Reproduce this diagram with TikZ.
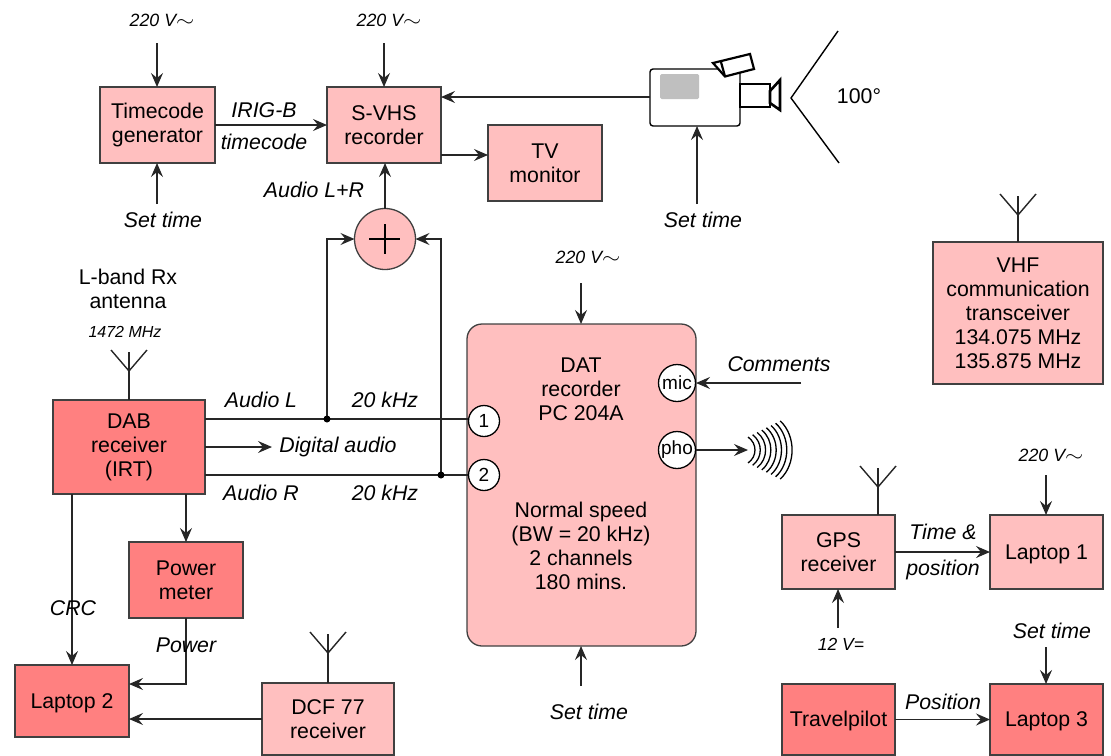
\documentclass[tikz,border=0pt]{standalone}
\usepackage{fontspec}
\setmainfont{Liberation Sans}
\usetikzlibrary{arrows.meta}
\newcommand{\fbig}{\fontsize{21.3}{24}\selectfont}
\newcommand{\fsml}{\fontsize{17.8}{20}\selectfont}
\newcommand{\fport}{\fontsize{19}{22}\selectfont}
\newcommand{\pwr}{220 V\scalebox{1.35}[1.1]{$\sim$}}
\definecolor{pink1}{HTML}{FFBFBF}
\definecolor{red1}{HTML}{FF8080}
\tikzset{
  wire/.style={line width=1.4pt,draw=black!85},
  arr/.style={wire,-{Stealth[length=14pt,width=12pt,inset=5pt]}},
  blockbase/.style={draw=black!75,line width=1.3pt,align=center,inner sep=0pt,outer sep=0pt,font=\fbig,
    execute at begin node={\rule{0pt}{19pt}}},
  pinkbox/.style={blockbase,fill=pink1},
  redbox/.style={blockbase,fill=red1},
  lbl/.style={font=\fbig\itshape,inner sep=0pt},
  slbl/.style={font=\fsml\itshape,inner sep=0pt},
  plainlbl/.style={font=\fbig,align=center,inner sep=0pt},
  port/.style={circle,draw=black,fill=white,line width=1.3pt,inner sep=0pt,outer sep=0pt},
  junction/.style={circle,fill=black,inner sep=0pt,minimum size=7pt},
  ant/.style={line width=1.4pt,draw=black!85},
  cambox/.style={line width=2.6pt,draw=black,fill=white,line join=miter}
}
\begin{document}
\begin{tikzpicture}[x=1pt,y=-1pt]
\useasboundingbox (0,0) rectangle (1111,755);
% blocks
\node[pinkbox,minimum width=115,minimum height=76] (tc) at (157.5,125) {Timecode\\generator};
\node[pinkbox,minimum width=114,minimum height=76] (sv) at (384,125) {S-VHS\\recorder};
\node[pinkbox,minimum width=114,minimum height=76] (tv) at (545,163) {TV\\monitor};
\node[circle,draw=black!75,line width=1.3pt,inner sep=0pt,outer sep=0pt,fill=pink1,minimum size=61] (sum) at (385,239) {};
\draw[line width=2pt] (369,239) -- (400,239) (385,224) -- (385,254);
\node[redbox,minimum width=152,minimum height=94] (dab) at (129,447) {DAB\\receiver\\(IRT)};
\node[redbox,minimum width=114,minimum height=76] (pm) at (186,580) {Power\\meter};
\node[redbox,minimum width=114,minimum height=72] (l2) at (72,701) {Laptop 2};
\node[pinkbox,minimum width=132,minimum height=72] (dcf) at (328,719) {DCF 77\\receiver};
\node[draw=black!75,line width=1.3pt,fill=pink1,rounded corners=15pt,minimum width=229,minimum height=322,inner sep=0pt,outer sep=0pt] (dat) at (581.5,485) {};
\node[plainlbl] (dattop) at (581,389) {DAT\\recorder\\PC 204A};
\node[plainlbl] (datbot) at (581,546) {Normal speed\\(BW = 20 kHz)\\2 channels\\180 mins.};
\node[pinkbox,minimum width=170,minimum height=142] (vhf) at (1018,313) {VHF\\communication\\transceiver\\134.075 MHz\\135.875 MHz};
\node[pinkbox,minimum width=113,minimum height=74] (gps) at (838.5,552) {GPS\\receiver};
\node[pinkbox,minimum width=113,minimum height=74] (l1) at (1046.5,552) {Laptop 1};
\node[redbox,minimum width=113,minimum height=71] (tp) at (838.5,719.5) {Travelpilot};
\node[redbox,minimum width=113,minimum height=71] (l3) at (1046.5,719.5) {Laptop 3};
% camera
\draw[line width=1.4pt,fill=white,rounded corners=3pt] (650,69) rectangle (740,126);
\node[fill=black!25,rounded corners=1.5pt,minimum width=39,minimum height=25,inner sep=0pt] (screen) at (679.5,86.5) {};
\coordinate (cambody) at (650,97);
\coordinate (cambot) at (697,126);
\draw[cambox] (740,84) rectangle (770,107);
\draw[cambox] (770,91) -- (780,80) -- (780,110) -- (770,103) -- cycle;
\draw[line width=2.2pt,fill=white,line join=miter] (713,63) -- (750,54) -- (754,69) -- (725,76.5) -- cycle;
\draw[line width=2.2pt] (721,62) -- (725,76.5);
\draw[line width=1.4pt] (838,31) -- (791,98) -- (839,163);
\node[font=\fbig,inner sep=0pt] (ang) at (859,96) {100°};
% free ends
\coordinate (a1) at (157,43);
\coordinate (a2) at (157,204);
\coordinate (a3) at (384,43);
\coordinate (a4) at (697,204);
\coordinate (a5) at (581,283);
\coordinate (a6) at (581,686);
\coordinate (a7) at (801,383);
\coordinate (a8) at (272,447);
\coordinate (a9) at (838,628);
\coordinate (a10) at (1046,475);
\coordinate (a11) at (1046,647);
\coordinate (wv) at (748,450);
\coordinate (h1) at (0,155);
\coordinate (h2) at (0,684);
\coordinate (crcTop) at (72,494);
\coordinate (phoC) at (677,450);
\coordinate (p1c) at (484,421);
\coordinate (p2c) at (484,475);
\coordinate (n1) at (327,419);
\coordinate (n2) at (441,475);
\coordinate (c1) at (327,239);
\coordinate (c2) at (441,239);
\coordinate (c3) at (186,684);
% connectors
\draw[arr] (a1) -- (a1 |- tc.north);
\draw[arr] (a2) -- (a2 |- tc.south);
\draw[arr] (tc.east) -- (sv.west);
\draw[arr] (a3) -- (a3 |- sv.north);
\draw[arr] (cambody) -- (cambody -| sv.east);
\draw[arr] (sv.east |- h1) -- (tv.west |- h1);
\draw[arr] (sum.north) -- (sum.north |- sv.south);
\draw[arr] (a4) -- (cambot);
\draw[wire] (dab.east |- n1) -- (p1c |- n1);
\draw[wire] (dab.east |- n2) -- (p2c);
\draw[arr] (n1) -- (c1) -- (sum.west);
\draw[arr] (n2) -- (c2) -- (sum.east);
\draw[arr] (dab.east |- a8) -- (a8);
\draw[arr] (pm.north |- dab.south) -- (pm.north);
\draw[arr] (crcTop) -- (l2.north);
\draw[arr] (pm.south) -- (c3) -- (l2.east |- h2);
\draw[arr] (dcf.west) -- (l2.east |- dcf.west);
\draw[arr] (a5) -- (a5 |- dat.north);
\draw[arr] (a6) -- (a6 |- dat.south);
\draw[arr] (a7) -- (a7 -| dat.east);
\draw[arr] (gps.east) -- (l1.west);
\draw[arr] (a9) -- (a9 |- gps.south);
\draw[arr] (a10) -- (a10 |- l1.north);
\draw[arr] (a11) -- (a11 |- l3.north);
\draw[arr] (tp.east) -- (l3.west);
\draw[arr] (phoC) -- (wv);
% dots and ports
\node[junction] (d1) at (n1) {};
\node[junction] (d2) at (n2) {};
\node[port,minimum size=31,font=\fport] (p1) at (p1c) {1};
\node[port,minimum size=31,font=\fport] (p2) at (p2c) {2};
\node[port,minimum size=37,font=\fport] (mic) at (677,383) {mic};
\node[port,minimum size=37,font=\fport] (pho) at (phoC) {pho};
% sound waves
\foreach \i in {0,...,7}{
  \pgfmathsetmacro{\xe}{748+\i*4.6}
  \pgfmathsetmacro{\xa}{755+\i*5.3}
  \pgfmathsetmacro{\hh}{13+\i*2.3}
  \pgfmathsetmacro{\xc}{\xe+(\xa-\xe)*1.33}
  \draw[line width=1.3pt] (\xe,450-\hh) .. controls (\xc,450-\hh*0.5) and (\xc,450+\hh*0.5) .. (\xe,450+\hh);
}
% antennas
\foreach \x/\tpy/\bb in {129/350/dab,328/632/dcf,1018/194/vhf,878/466/gps}{
  \coordinate (fork) at (\x,\tpy+21);
  \draw[ant] (\x,\tpy+2) -- (fork) -- (fork |- \bb.north);
  \draw[ant] (\x-18,\tpy) -- (fork) -- (\x+18,\tpy);
}
% labels
\node[slbl] (t1) at (162,20) {\pwr};
\node[slbl] (t2) at (389,20) {\pwr};
\node[slbl] (t3) at (588,257) {\pwr};
\node[slbl] (t4) at (1051,455) {\pwr};
\node[slbl,font=\fontsize{16}{20}\selectfont\itshape] (t5) at (125,332) {1472 MHz};
\node[slbl,font=\fontsize{17.5}{20}\selectfont\itshape] (t6) at (841,644) {12 V=};
\node[plainlbl] (t7) at (128,289) {L-band Rx\\antenna};
\node[lbl] (t8) at (264,110) {IRIG-B};
\node[lbl] (t9) at (264,142) {timecode};
\node[lbl] (t10) at (314,190) {Audio L+R};
\node[lbl] (t11) at (163,220) {Set time};
\node[lbl] (t12) at (703,220) {Set time};
\node[lbl] (t13) at (779,364) {Comments};
\node[lbl] (t14) at (261,400) {Audio L};
\node[lbl] (t15) at (385,400) {20 kHz};
\node[lbl] (t16) at (338,447) {Digital audio};
\node[lbl] (t17) at (261,493) {Audio R};
\node[lbl] (t18) at (385,493) {20 kHz};
\node[lbl] (t19) at (73,608) {CRC};
\node[lbl] (t20) at (186,645) {Power};
\node[lbl] (t21) at (589,712) {Set time};
\node[lbl] (t22) at (1052,631) {Set time};
\node[lbl] (t23) at (943,532) {Time \&};
\node[lbl] (t24) at (943,570) {position};
\node[lbl] (t25) at (943,702) {Position};
\end{tikzpicture}
\end{document}
